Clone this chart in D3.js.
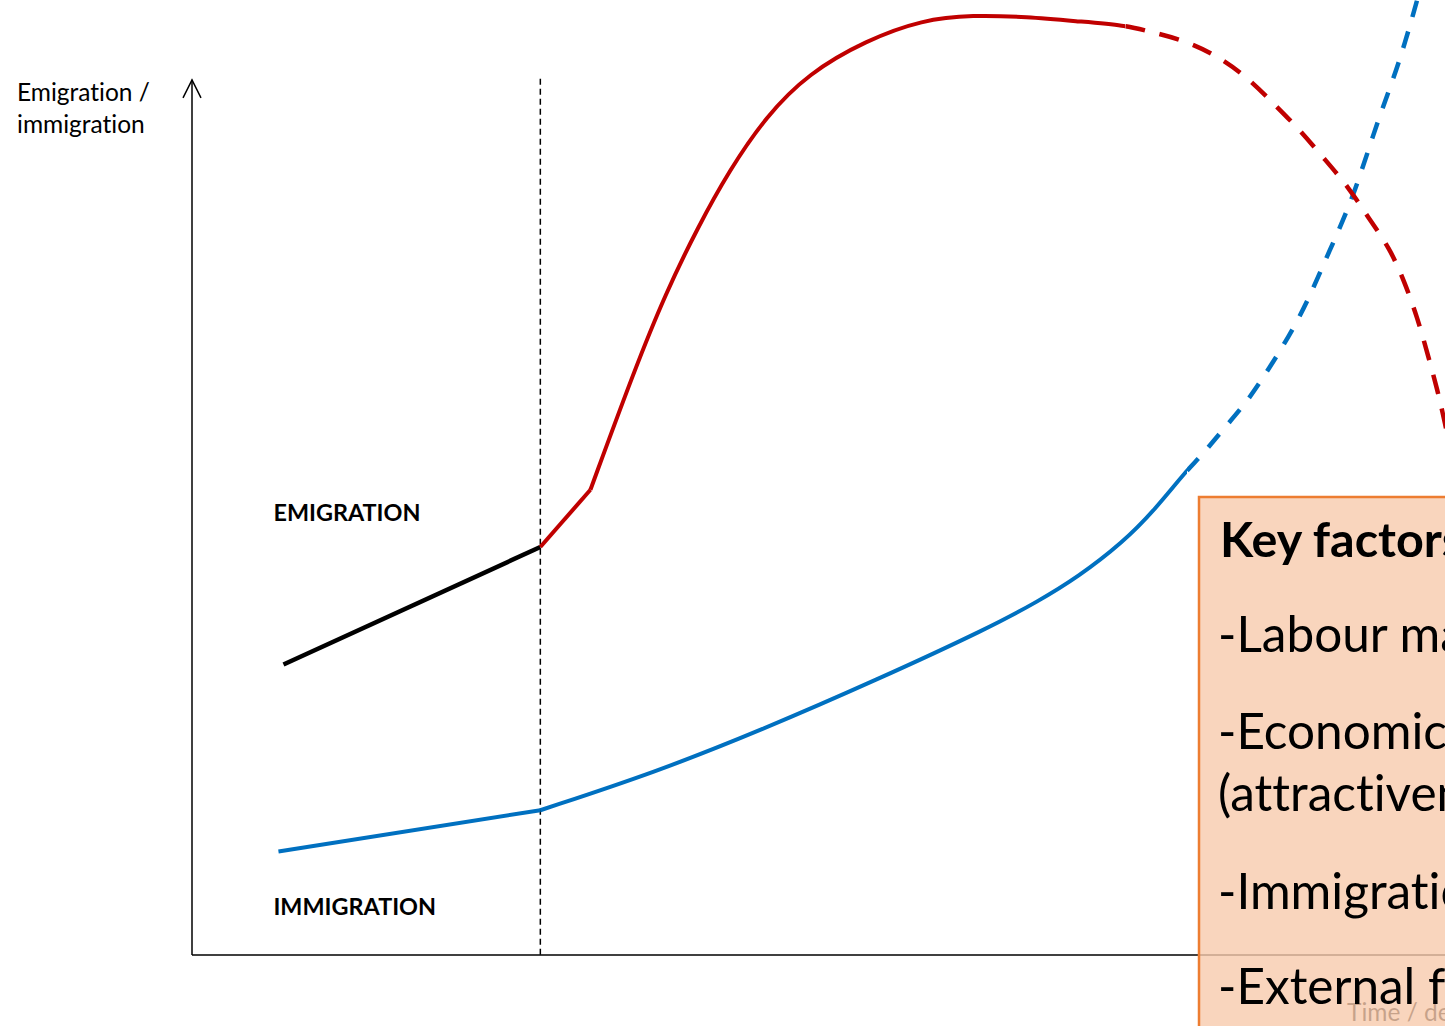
<!DOCTYPE html>
<html>
<head>
<meta charset="utf-8">
<script src="https://cdn.jsdelivr.net/npm/d3@7"></script>
<style>
  html, body { margin: 0; padding: 0; background: #fff; overflow: hidden; }
  svg { display: block; }
  text { font-family: Lato, "Open Sans", sans-serif; font-variant-ligatures: none; }
</style>
</head>
<body>
<svg id="chart" width="1445" height="1026"></svg>
<script>
// Time runs 0..100 along the x axis, level 0..100 up the y axis.
const emigrationEarly = [[7.3, 30.9], [27.8, 43.4]];
const emigrationRise = [[27.8, 43.4], [31.8, 49.5]];
// Smooth emigration curve: observed boom, then projected decline
const emigrationCurve = [
  [31.8, 49.5], [35.3, 62.2], [37.8, 70.4], [40.4, 77.5], [42.9, 83.5],
  [45.8, 89.2], [49.2, 93.8], [53.8, 97.3], [58.3, 99.5], [62.3, 100.0],
  [66.6, 99.8], [70.9, 99.3], [74.5, 98.9], [76.2, 98.3], [79.0, 97.4],
  [81.8, 95.7], [84.2, 93.4], [86.3, 90.6], [88.4, 87.8], [90.3, 84.8],
  [92.3, 81.7], [93.9, 78.4], [95.6, 75.2], [96.8, 71.5], [97.8, 67.8],
  [98.6, 64.0], [99.4, 60.1], [100.0, 56.6], [100.6, 52.7]
];
const emigrationProjectionFrom = 74.5;

const immigrationEarly = [[6.9, 11.0], [27.8, 15.4]];
// Smooth immigration curve: observed growth, then projected rise
const immigrationCurve = [
  [27.8, 15.4], [36.9, 19.4], [45.4, 23.9], [54.7, 29.3], [63.6, 34.8],
  [67.5, 37.6], [70.7, 40.2], [74.3, 43.9], [76.8, 47.3], [79.4, 51.6],
  [80.5, 53.0], [82.4, 56.1], [84.3, 59.0], [86.0, 62.5], [87.5, 65.7],
  [89.0, 69.4], [90.8, 75.0], [92.6, 80.3], [94.4, 87.8], [95.4, 91.5],
  [96.4, 95.2], [97.6, 100.7], [98.0, 102.7]
];
const immigrationProjectionFrom = 79.4;

const transitionTime = 27.8;
const axisTop = 93.1;

const seriesLabels = ["EMIGRATION", "IMMIGRATION"];
const seriesLabelPos = [[6.5, 46.2], [6.5, 4.3]];
const yAxisTitle = ["Emigration /", "immigration"];
const xAxisTitle = "Time / development";
const factorsTitle = "Key factors";
const factorsLines = [
  "-Labour market",
  "-Economic development",
  "(attractiveness)",
  "-Immigration policy",
  "-External factors"
];

const W = 1445, H = 1026;
const svg = d3.select("#chart");
const x = d3.scaleLinear().domain([0, 100]).range([192, 1445]);
const y = d3.scaleLinear().domain([0, 100]).range([955, 15]);

const RED = "#C00000", BLUE = "#0070C0";

// Axes
const axes = svg.append("g").attr("fill", "none").attr("stroke", "#000").attr("stroke-width", 1.5);
axes.append("line").attr("x1", x(0)).attr("x2", x(0)).attr("y1", y(0)).attr("y2", y(axisTop));
axes.append("line").attr("x1", x(0)).attr("x2", x(104)).attr("y1", y(0)).attr("y2", y(0));
axes.append("path")
  .attr("stroke-linejoin", "miter")
  .attr("d", `M${x(0) - 9},${y(axisTop) + 18} L${x(0)},${y(axisTop)} L${x(0) + 9},${y(axisTop) + 18}`);

// Transition marker
svg.append("line")
  .attr("x1", x(transitionTime)).attr("x2", x(transitionTime))
  .attr("y1", y(axisTop) - 1).attr("y2", y(0))
  .attr("stroke", "#000").attr("stroke-width", 1.5).attr("stroke-dasharray", "6,4");

// Axis titles
const yt = svg.append("text").attr("x", 17).attr("y", 101).attr("font-size", 24.5).attr("fill", "#000");
yt.append("tspan").attr("x", 17).text(yAxisTitle[0]);
yt.append("tspan").attr("x", 17).attr("dy", 32).text(yAxisTitle[1]);
svg.append("text").attr("x", 1347).attr("y", 1021).attr("font-size", 24.5).attr("fill", "#000").text(xAxisTitle);

// Curves
const lineLinear = d3.line().x(d => x(d[0])).y(d => y(d[1]));
const lineSmooth = d3.line().x(d => x(d[0])).y(d => y(d[1])).curve(d3.curveBasis);

const defs = svg.append("defs");
function splitClips(id, xSplit) {
  defs.append("clipPath").attr("id", id + "-past")
    .append("rect").attr("x", 0).attr("y", -50).attr("width", x(xSplit)).attr("height", H + 100);
  defs.append("clipPath").attr("id", id + "-proj")
    .append("rect").attr("x", x(xSplit)).attr("y", -50).attr("width", W).attr("height", H + 100);
}

// Draws one smooth curve: solid up to xSplit, dashed after it, dashes starting at the split.
function drawSplitCurve(id, data, xSplit, color, dash) {
  splitClips(id, xSplit);
  const d = lineSmooth(data);
  svg.append("path").attr("d", d).attr("clip-path", `url(#${id}-past)`)
    .attr("fill", "none").attr("stroke", color).attr("stroke-width", 4);
  const proj = svg.append("path").attr("d", d).attr("clip-path", `url(#${id}-proj)`)
    .attr("fill", "none").attr("stroke", color).attr("stroke-width", 4.5)
    .attr("stroke-dasharray", dash);
  // find the path length where the projection starts
  const node = proj.node();
  const total = node.getTotalLength();
  const target = x(xSplit);
  let lo = 0, hi = total;
  for (let i = 0; i < 40; i++) {
    const mid = (lo + hi) / 2;
    if (node.getPointAtLength(mid).x < target) lo = mid; else hi = mid;
  }
  proj.attr("stroke-dashoffset", -lo);
}

svg.append("path").datum(immigrationEarly).attr("d", lineLinear)
  .attr("fill", "none").attr("stroke", BLUE).attr("stroke-width", 4);
drawSplitCurve("imm", immigrationCurve, immigrationProjectionFrom, BLUE, "17,15");

svg.append("path").datum(emigrationEarly).attr("d", lineLinear)
  .attr("fill", "none").attr("stroke", "#000").attr("stroke-width", 4.5);
svg.append("path").datum(emigrationRise).attr("d", lineLinear)
  .attr("fill", "none").attr("stroke", RED).attr("stroke-width", 4);
drawSplitCurve("emi", emigrationCurve, emigrationProjectionFrom, RED, "20,15");

// Series labels
seriesLabels.forEach((t, i) => {
  svg.append("text").attr("x", x(seriesLabelPos[i][0])).attr("y", y(seriesLabelPos[i][1]))
    .attr("font-size", 23.4).attr("font-weight", 700).attr("fill", "#000").text(t);
});

// Key factors box
const box = svg.append("g");
box.append("rect").attr("x", 1199).attr("y", 497).attr("width", 300).attr("height", 600)
  .attr("fill", "#F8CBAD").attr("fill-opacity", 0.8)
  .attr("stroke", "#ED7D31").attr("stroke-width", 2.5);
box.append("text").attr("x", 1220).attr("y", 557).attr("font-size", 48.5).attr("font-weight", 700)
  .attr("fill", "#000").text(factorsTitle);
const lineBase = [652, 749, 811, 909, 1004];
factorsLines.forEach((t, i) => {
  box.append("text").attr("x", 1218).attr("y", lineBase[i]).attr("font-size", 49.5)
    .attr("fill", "#000").text(t);
});
</script>
</body>
</html>
